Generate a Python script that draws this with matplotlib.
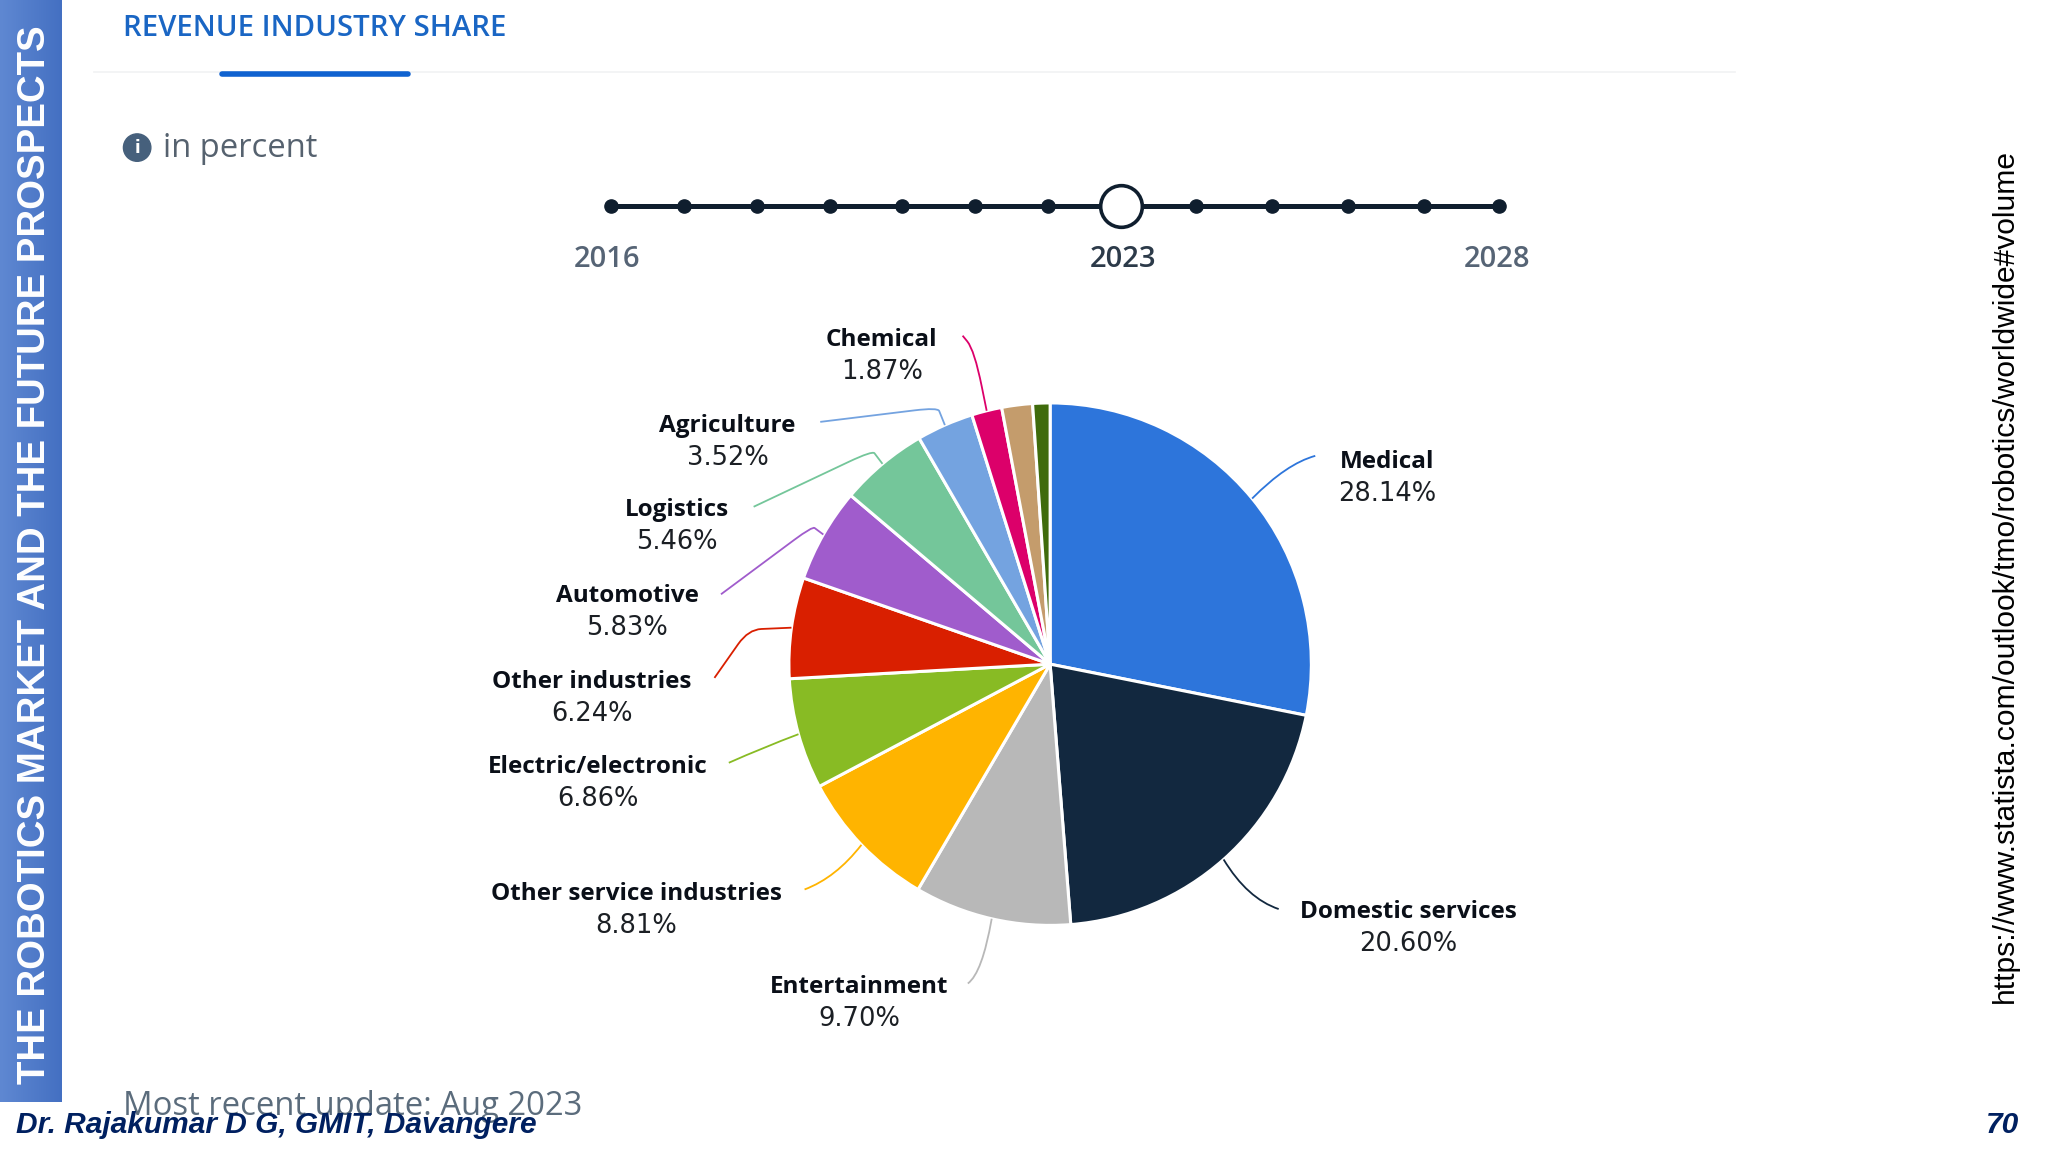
import numpy as np
import matplotlib
matplotlib.use("Agg")
import matplotlib.pyplot as plt
from matplotlib.path import Path
from matplotlib.patches import PathPatch, Circle

# pie data, clockwise from 12 o'clock
industries = ["Medical", "Domestic services", "Entertainment", "Other service industries",
              "Electric/electronic", "Other industries", "Automotive", "Logistics",
              "Agriculture", "Chemical", "", ""]
shares = [28.14, 20.60, 9.70, 8.81, 6.86, 6.24, 5.83, 5.46, 3.52, 1.87, 1.9, 1.07]
colors = ["#2d75db", "#12283f", "#b8b8b8", "#ffb400", "#88bb24", "#d91f00",
          "#a05ccc", "#74c69a", "#74a3e0", "#dc006a", "#c49c6c", "#3f6b0c"]

years = np.arange(2016, 2029)
selected_year = 2023
year_labels = [2016, 2023, 2028]

# layout, in pixels of a 1568 wide view
cx, cy, radius = 804, 508.5, 200
label_xy = [(1062, 364), (1078, 709), (658, 766), (487, 695), (458, 598), (453, 533),
            (480, 467), (518, 401), (557, 337), (675, 271)]
leader_end = [(1007, 349), (979, 696), (741, 753), (616, 681), (558, 584), (547, 519),
              (552, 455), (577, 388), (628, 323), (737, 257)]
leader_elbow = [(985, 355), (955, 688), (752, 745), (640, 672), (585, 572), (573, 482),
                (622, 403), (668, 345), (718, 312), (746, 268)]
# how much of each leg the bend takes: 1 is one smooth curve
leader_bend = [1, 1, 1, 1, 1, 0.3, 0.2, 0.2, 0.2, 0.6]

fig = plt.figure(figsize=(20.48, 11.52), dpi=100)
ax = fig.add_axes([0, 0, 1, 1])

# y axis runs downwards, so counterclock here reads clockwise on screen
wedges, _ = ax.pie(shares, colors=colors, startangle=-90, counterclock=True,
                   center=(cx, cy), radius=radius,
                   wedgeprops=dict(edgecolor="white", linewidth=2.2))
ax.axis("off")

# left banner
grad = np.linspace(0, 1, 64).reshape(1, -1)
banner = matplotlib.colors.LinearSegmentedColormap.from_list("b", ["#5f88d2", "#4470c2"])
ax.imshow(grad, extent=(0, 47, 844, 0), cmap=banner, aspect="auto", zorder=2)
ax.set_xlim(0, 1568)
ax.set_ylim(882, 0)
ax.set_aspect("auto")
ax.text(27, 425, "THE ROBOTICS MARKET AND THE FUTURE PROSPECTS", rotation=90, color="white",
        family="Liberation Sans", weight="bold", fontsize=27.6, ha="center", va="center", zorder=3)

# header
ax.text(94, 21.5, "REVENUE INDUSTRY SHARE", color="#1a66c4", family="Open Sans", weight=600,
        fontsize=21.2, ha="left", va="center")
ax.plot([72, 1328], [55.5, 55.5], color="#f1f2f3", lw=1.2, zorder=1)
ax.plot([170, 312], [56.5, 56.5], color="#0f62d0", lw=4, solid_capstyle="round", zorder=2)
ax.add_patch(Circle((105, 113), 10.5, color="#46607c", zorder=2))
ax.text(105, 113.5, "i", color="white", family="DejaVu Sans", weight="bold", fontsize=12,
        ha="center", va="center", zorder=3)
ax.text(125, 113.5, "in percent", color="#56626f", family="Open Sans", fontsize=23.6,
        ha="left", va="center")

# year slider
slider_x = np.interp(years, [2016, selected_year, 2028], [468, 858, 1148])
ax.plot(slider_x, [158] * len(years), color="#0f1e2e", lw=3.6, marker="o", markersize=9.5, zorder=2)
ax.plot(np.interp(selected_year, [2016, selected_year, 2028], [468, 858, 1148]), 158, marker="o",
        markersize=30, markerfacecolor="white", markeredgecolor="#0f1e2e", markeredgewidth=2.6, zorder=3)
for y, x in zip(year_labels, [465, 860, 1146]):
    ax.text(x, 199, str(y), family="Open Sans", weight=600, fontsize=21, ha="center", va="center",
            color="#2c3a49" if y == selected_year else "#566475")

# leader lines start at the middle of each wedge's arc
codes = [Path.MOVETO, Path.LINETO, Path.CURVE3, Path.CURVE3, Path.LINETO]
cum = np.cumsum([0] + shares)
for i, name in enumerate(industries[:10]):
    mid = np.deg2rad((cum[i] + cum[i + 1]) / 2 * 360 / sum(shares))
    start = np.array([cx + radius * np.sin(mid), cy - radius * np.cos(mid)])
    elbow = np.array(leader_elbow[i], dtype=float)
    end = np.array(leader_end[i], dtype=float)
    a = elbow + (start - elbow) * leader_bend[i]
    b = elbow + (end - elbow) * leader_bend[i]
    ax.add_patch(PathPatch(Path([start, a, elbow, b, end], codes), facecolor="none",
                           edgecolor=colors[i], lw=1.3, zorder=1))
    lx, ly = label_xy[i]
    ax.text(lx, ly - 10.5, name, family="Open Sans", weight="bold", fontsize=17.5, color="#0a0f18",
            ha="center", va="center")
    ax.text(lx, ly + 14, f"{shares[i]:.2f}%", family="DejaVu Sans", fontsize=18.5, color="#1b1f24",
            ha="center", va="center")

# footer and source
ax.text(94, 847.5, "Most recent update: Aug 2023", color="#5b6c7c", family="Open Sans", fontsize=23.6,
        ha="left", va="center", zorder=2)
ax.text(12, 861.5, "Dr. Rajakumar D G, GMIT, Davangere", color="#002060", family="Liberation Sans",
        weight="bold", style="italic", fontsize=21.5, ha="left", va="center", zorder=3)
ax.text(1546, 861.5, "70", color="#002060", family="Liberation Sans", weight="bold", style="italic",
        fontsize=21.5, ha="right", va="center", zorder=3)
ax.text(1535, 441, "https://www.statista.com/outlook/tmo/robotics/worldwide#volume", rotation=90,
        color="black", family="Liberation Sans", fontsize=21.6, ha="center", va="center")

fig.savefig("out.png", dpi=100, facecolor="white")
